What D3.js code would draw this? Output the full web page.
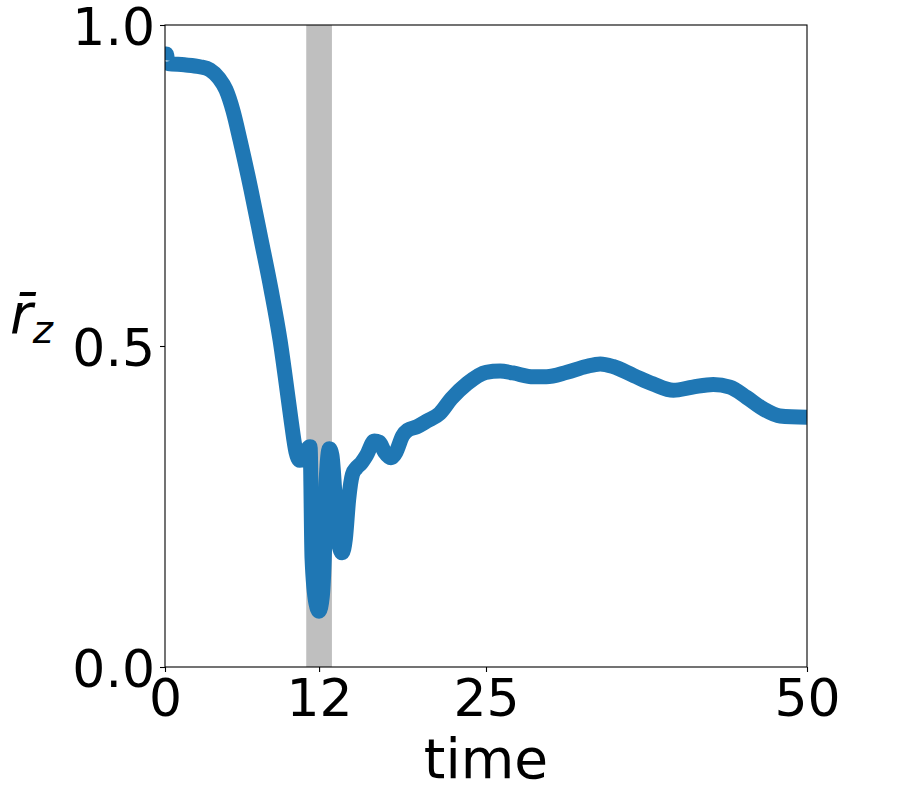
<!DOCTYPE html>
<html>
<head>
<meta charset="utf-8">
<script src="https://cdn.jsdelivr.net/npm/d3@7"></script>
<style>
    html, body { margin: 0; padding: 0; background: #fff; }
    svg { display: block; font-family: "DejaVu Sans", sans-serif; }
    .tick text { font-family: "DejaVu Sans", sans-serif; font-size: 52px; fill: #000; }
    .domain, .tick line { stroke: #000; stroke-width: 1.1; }
</style>
</head>
<body>
<svg id="chart" width="902" height="790"></svg>
<script>
// Time vs mean r_z
const times = [0, 0.1, 0.25, 1.5, 2.7, 3.5, 4.2, 4.75, 5.3, 5.84, 6.7, 7.48, 8.26, 8.96, 9.5, 9.85,
    10.2, 10.5, 10.8, 11.1, 11.3, 11.45, 11.75, 12.0, 12.25, 12.45, 12.55, 12.8, 13.0, 13.3,
    13.55, 13.8, 14.05, 14.3, 14.6, 14.9, 15.3, 15.7, 16.3, 16.7, 17.1, 17.6, 18.0, 18.5, 18.9,
    19.6, 20.4, 21.4, 22.3, 23.5, 25.0, 26.1, 27.1, 28.7, 29.7, 31.3, 32.8, 33.9, 34.9, 36.5,
    38.0, 39.6, 41.1, 42.7, 44.0, 45.3, 46.6, 47.9, 50];
const rz = [0.945, 0.955, 0.94, 0.938, 0.935, 0.93, 0.917, 0.899, 0.866, 0.821, 0.743, 0.666, 0.588, 0.509, 0.432, 0.38,
    0.335, 0.322, 0.325, 0.34, 0.343, 0.17, 0.1, 0.087, 0.11, 0.2, 0.29, 0.34, 0.33, 0.25,
    0.19, 0.178, 0.2, 0.26, 0.3, 0.31, 0.318, 0.33, 0.352, 0.35, 0.335, 0.326, 0.335, 0.36, 0.369,
    0.374, 0.383, 0.395, 0.418, 0.441, 0.459, 0.461, 0.458, 0.452, 0.452, 0.459, 0.468, 0.472, 0.468, 0.454,
    0.441, 0.431, 0.436, 0.44, 0.436, 0.42, 0.402, 0.391, 0.389];

const bandStart = 11;
const bandEnd = 13;
const xTicks = [0, 12, 25, 50];
const yTicks = [0, 0.5, 1.0];

const margin = { left: 165, top: 25 };
const plotW = 642, plotH = 642;

const svg = d3.select("#chart");
const g = svg.append("g").attr("transform", `translate(${margin.left},${margin.top})`);

const x = d3.scaleLinear().domain([0, 50]).range([0, plotW]);
const y = d3.scaleLinear().domain([0, 1]).range([plotH, 0]);

g.append("clipPath").attr("id", "clip")
    .append("rect").attr("width", plotW).attr("height", plotH);

// shaded interval
g.append("rect")
    .attr("x", x(bandStart))
    .attr("y", 0)
    .attr("width", x(bandEnd) - x(bandStart))
    .attr("height", plotH)
    .attr("fill", "#bfbfbf");

const pts = times.map((t, i) => [t, rz[i]]);
const line = d3.line()
    .x(d => x(d[0]))
    .y(d => y(d[1]))
    .curve(d3.curveMonotoneX);

g.append("path")
    .datum(pts)
    .attr("clip-path", "url(#clip)")
    .attr("d", line)
    .attr("fill", "none")
    .attr("stroke", "#1f77b4")
    .attr("stroke-width", 15)
    .attr("stroke-linejoin", "round")
    .attr("stroke-linecap", "butt");

// frame
g.append("rect")
    .attr("width", plotW).attr("height", plotH)
    .attr("fill", "none").attr("stroke", "#000").attr("stroke-width", 1.1);

// axes
const xAxis = g.append("g")
    .attr("transform", `translate(0,${plotH})`)
    .call(d3.axisBottom(x).tickValues(xTicks).tickFormat(d3.format("d"))
        .tickSize(5).tickSizeOuter(0).tickPadding(5));
xAxis.selectAll(".tick text").attr("y", 49).attr("dy", null);

const yAxis = g.append("g")
    .call(d3.axisLeft(y).tickValues(yTicks).tickFormat(d3.format(".1f"))
        .tickSize(5).tickSizeOuter(0).tickPadding(5));
yAxis.selectAll(".tick text").attr("dy", "0.37em");
g.selectAll(".domain").remove();

// labels
svg.append("text")
    .attr("x", margin.left + plotW / 2)
    .attr("y", 778)
    .attr("text-anchor", "middle")
    .style("font-size", "55px")
    .text("time");

const yl = svg.append("text")
    .attr("x", 10)
    .attr("y", 333)
    .style("font-size", "55px")
    .style("font-style", "italic");
yl.append("tspan").text("r\u0304");
yl.append("tspan").attr("dy", 10).style("font-size", "38.5px").text("z");
</script>
</body>
</html>
